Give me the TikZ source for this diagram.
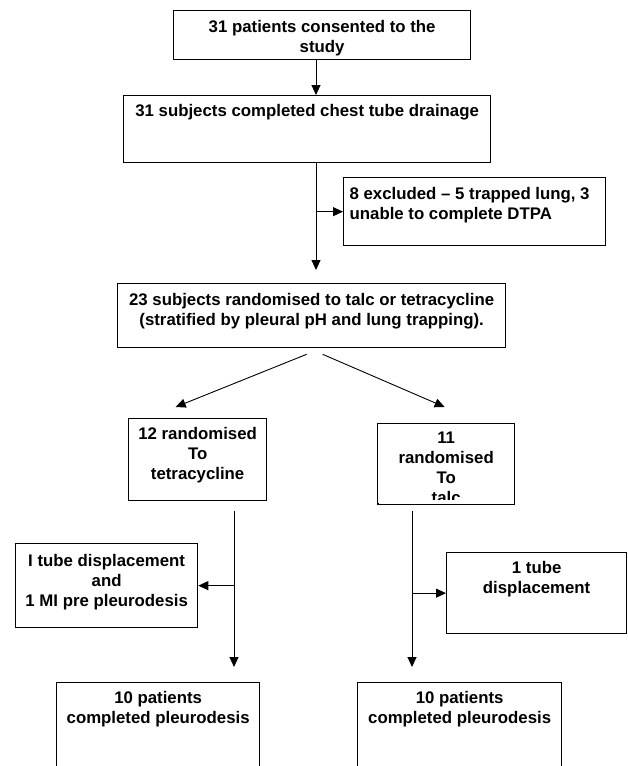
\documentclass[tikz,border=0pt]{standalone}
\usepackage{fontspec}
\setmainfont{Liberation Sans}
\usetikzlibrary{calc,arrows.meta}
% text set at the top of a fixed box: [first baseline]{width}{height}{text}
\newcommand{\boxtext}[4][21pt]{\parbox[t][#3][t]{#2}{\centering\rule{0pt}{#1}#4}}
\newcommand{\boxtextl}[4][22pt]{\parbox[t][#3][t]{#2}{\raggedright\leftskip=6pt\rule{0pt}{#1}#4}}

\begin{document}
\begin{tikzpicture}[x=1pt, y=-1pt,
		font=\fontsize{16.8}{20}\selectfont\bfseries,
		stage/.style={draw, line width=1.3pt, inner sep=0pt, anchor=north west},
		arr/.style={line width=0.9pt, -{Triangle[length=10pt,width=9pt]}}]
			%%%%% START %%%%%
			\useasboundingbox (0,0) rectangle (627,766);
			
			\node[stage] (cons) at (173,10) {\boxtext[22pt]{297pt}{49pt}{31 patients consented to the\\study}};
			\node[stage] (drain) at (123,95) {\boxtext{367pt}{67pt}{31 subjects completed chest tube drainage}};
			\node[stage] (excl) at (343,177) {\boxtextl{262pt}{68pt}{8 excluded -- 5 trapped lung, 3\\unable to complete DTPA}};
			\node[stage] (rand) at (117,283) {\boxtext[22pt]{388pt}{64pt}{23 subjects randomised to talc or tetracycline\\(stratified by pleural pH and lung trapping).}};
			
			\node[stage] (tet) at (128,418) {\boxtext{138pt}{82pt}{12 randomised\\To\\tetracycline}};
			\node[stage] (talc) at (377,423) {\boxtext[20pt]{137pt}{80pt}{11\\randomised\\To\\talc}};
			% last line cut off by the box
			\fill[white] ($(talc.south west)+(1.5,-4)$) rectangle ($(talc.south east)+(-1.5,0)$);
			\draw[line width=1.3pt] (talc.south west) -- (talc.south east);
			
			\node[stage] (lexc) at (15,543) {\boxtext[23pt]{182pt}{84pt}{I tube displacement\\and\\1 MI pre pleurodesis}};
			\node[stage] (rexc) at (446,552) {\boxtext{180pt}{81pt}{1 tube\\displacement}};
			
			\node[stage] (lend) at (56,682) {\boxtext{203pt}{110pt}{10 patients\\completed pleurodesis}};
			\node[stage] (rend) at (357,682) {\boxtext{204pt}{110pt}{10 patients\\completed pleurodesis}};
			
			% trunks
			\coordinate (t0) at (316,0);
			\coordinate (tl) at (234,0);
			\coordinate (tr) at (412,0);
			
			\draw[arr] (cons.south -| t0) -- (drain.north -| t0);
			\draw[arr] (drain.south -| t0) -- ($(rand.north -| t0)+(0,-13)$);
			\draw[arr] (excl.west -| t0) -- (excl.west);
			
			\draw[arr] ($(rand.south)+(-5,6)$) -- ($(tet.north)+(-22,-11)$);
			\draw[arr] ($(rand.south)+(11,6)$) -- ($(talc.north)+(-1.5,-16)$);
			
			\draw[arr] ($(tet.south -| tl)+(0,10)$) -- ($(lend.north -| tl)+(0,-15)$);
			\draw[arr] (lexc.east -| tl) -- (lexc.east);
			
			\draw[arr] ($(talc.south -| tr)+(0,7)$) -- ($(rend.north -| tr)+(0,-15)$);
			\draw[arr] (rexc.west -| tr) -- (rexc.west);
			%%%%% END %%%%%
		\end{tikzpicture}
\end{document}
